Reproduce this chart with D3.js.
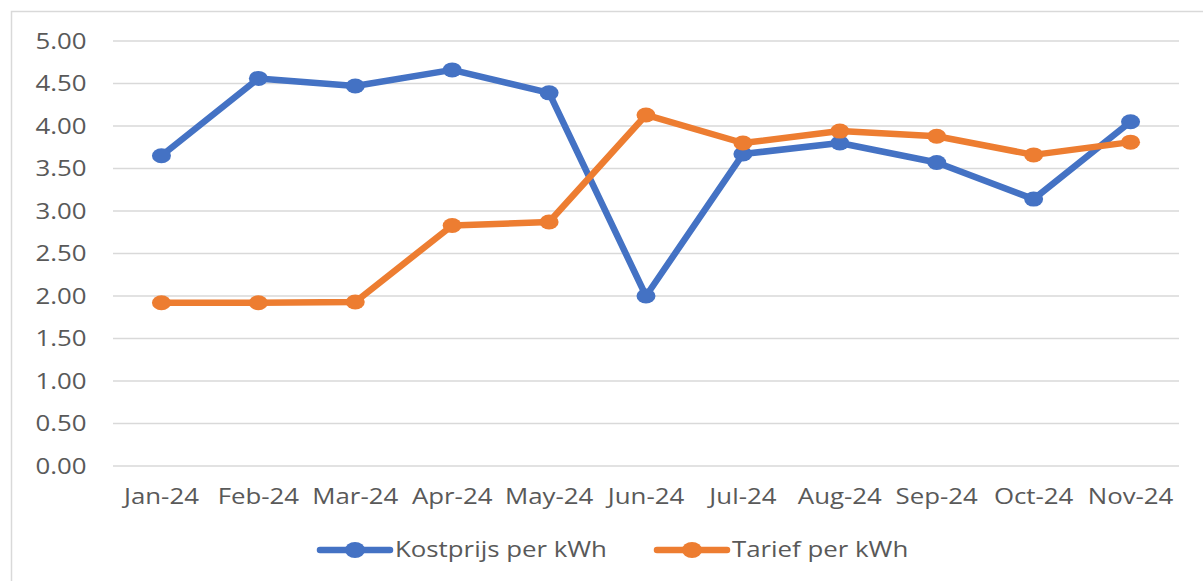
<!DOCTYPE html>
<html>
<head>
<meta charset="utf-8">
<script src="https://cdn.jsdelivr.net/npm/d3@7"></script>
<style>
  body { margin: 0; background: #fff; }
  svg { display: block; font-family: "Open Sans", "Noto Sans", sans-serif; }
</style>
</head>
<body>
<svg></svg>
<script>
// months on the x axis
const months = ["Jan-24", "Feb-24", "Mar-24", "Apr-24", "May-24", "Jun-24",
  "Jul-24", "Aug-24", "Sep-24", "Oct-24", "Nov-24"];
// series values
const kostprijs = [3.65, 4.56, 4.47, 4.66, 4.39, 2.00, 3.67, 3.80, 3.57, 3.14, 4.05];
const tarief = [1.92, 1.92, 1.93, 2.83, 2.87, 4.13, 3.80, 3.94, 3.88, 3.66, 3.81];
const seriesNames = ["Kostprijs per kWh", "Tarief per kWh"];
const yTicks = [0, 0.5, 1, 1.5, 2, 2.5, 3, 3.5, 4, 4.5, 5];

const width = 1203;
const height = 581;
const colors = ["#4472c4", "#ed7d31"];
const textColor = "#595959";
const fontSize = 21;
const stretch = "scale(1.23,1)"; // the source picture is a bit wider than tall

const svg = d3.select("svg").attr("width", width).attr("height", height);

// chart border
svg.append("rect")
  .attr("x", 11.5).attr("y", 11.5)
  .attr("width", width + 10).attr("height", height + 10)
  .attr("fill", "none").attr("stroke", "#d9d9d9").attr("stroke-width", 1.5);

const xScale = d3.scaleBand().domain(months).range([113, 1179]);
const yScale = d3.scaleLinear().domain([0, 5]).range([466, 41]);

// gridlines
svg.append("g")
  .selectAll("line")
  .data(yTicks)
  .enter()
  .append("line")
  .attr("x1", 113).attr("x2", 1179)
  .attr("y1", (d) => yScale(d)).attr("y2", (d) => yScale(d))
  .attr("stroke", "#d9d9d9").attr("stroke-width", 1.5);

// y axis labels
const yAxis = svg.append("g")
  .attr("transform", "translate(89,0)")
  .call(d3.axisLeft(yScale).tickValues(yTicks).tickFormat(d3.format(".2f")).tickSize(0));
yAxis.select(".domain").remove();
yAxis.selectAll("text")
  .attr("x", -2)
  .attr("font-size", fontSize).attr("fill", textColor)
  .attr("font-family", "'Open Sans', sans-serif").attr("dy", "0.34em")
  .attr("transform", stretch);

// x axis labels
const xAxis = svg.append("g")
  .attr("transform", "translate(0,486)")
  .call(d3.axisBottom(xScale).tickSize(0));
xAxis.select(".domain").remove();
xAxis.selectAll("text")
  .attr("font-size", fontSize).attr("fill", textColor)
  .attr("font-family", "'Open Sans', sans-serif")
  .attr("transform", stretch);

const xMid = (m) => xScale(m) + xScale.bandwidth() / 2;
const line = d3.line()
  .x((d, i) => xMid(months[i]))
  .y((d) => yScale(d));

[kostprijs, tarief].forEach((vals, k) => {
  svg.append("path")
    .datum(vals)
    .attr("d", line)
    .attr("fill", "none")
    .attr("stroke", colors[k])
    .attr("stroke-width", 6.5)
    .attr("stroke-linejoin", "round")
    .attr("stroke-linecap", "round");

  svg.append("g")
    .selectAll("ellipse")
    .data(vals)
    .enter()
    .append("ellipse")
    .attr("cx", (d, i) => xMid(months[i]))
    .attr("cy", (d) => yScale(d))
    .attr("rx", 9.5)
    .attr("ry", 7.5)
    .attr("fill", colors[k]);
});

// legend
const legendX = [320, 657];
seriesNames.forEach((name, k) => {
  const g = svg.append("g").attr("transform", "translate(" + legendX[k] + ",550)");
  g.append("line")
    .attr("x1", 0).attr("x2", 70)
    .attr("stroke", colors[k]).attr("stroke-width", 6.5)
    .attr("stroke-linecap", "round");
  g.append("ellipse").attr("cx", 35).attr("rx", 10).attr("ry", 8).attr("fill", colors[k]);
  g.append("g")
    .attr("transform", "translate(75,0)")
    .append("text")
    .attr("dy", "0.35em")
    .attr("font-size", fontSize).attr("fill", textColor)
    .attr("transform", stretch)
    .text(name);
});
</script>
</body>
</html>
